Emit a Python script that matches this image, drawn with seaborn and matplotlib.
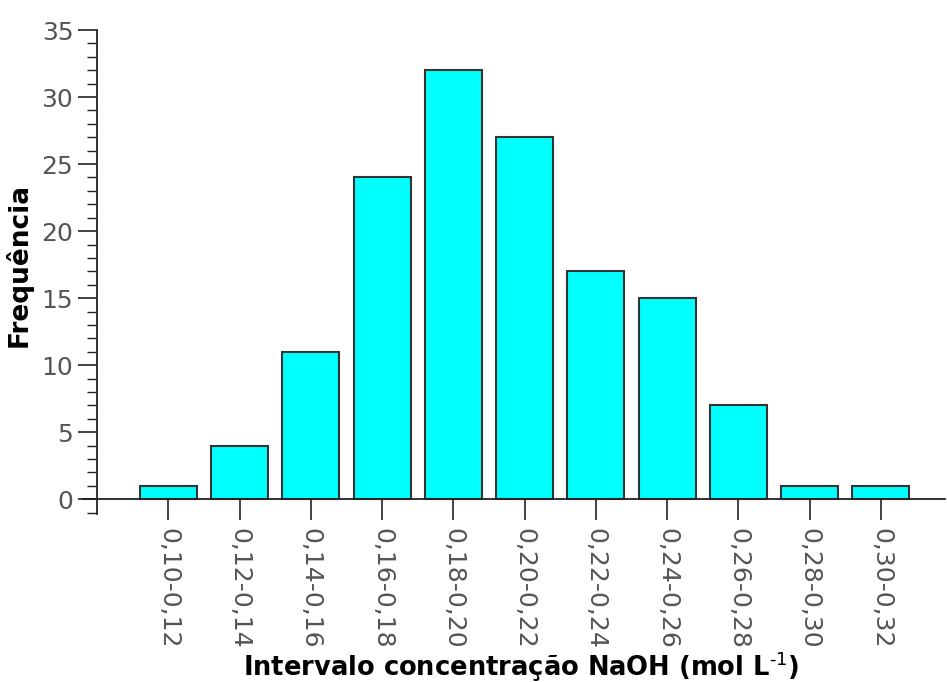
import matplotlib
matplotlib.use("Agg")
import matplotlib.pyplot as plt
from matplotlib.ticker import MultipleLocator
import seaborn as sns
import pandas as pd

intervals = ["0,10-0,12", "0,12-0,14", "0,14-0,16", "0,16-0,18", "0,18-0,20",
             "0,20-0,22", "0,22-0,24", "0,24-0,26", "0,26-0,28", "0,28-0,30",
             "0,30-0,32"]
frequencies = [1, 4, 11, 24, 32, 27, 17, 15, 7, 1, 1]

df = pd.DataFrame({"intervalo": intervals, "freq": frequencies})

sns.set_theme(style="white")
plt.rcParams["font.family"] = ["DejaVu Sans"]

fig = plt.figure(figsize=(9.47, 6.82), dpi=100)
ax = fig.add_axes([0.1024, 0.2463, 0.8956, 0.7097])

sns.barplot(data=df, x="intervalo", y="freq", ax=ax, color="#00FFFF",
            saturation=1, width=0.8, edgecolor="#333333", linewidth=1.5)

ax.set_xlim(-1, 10.9)
ax.set_ylim(-1.1, 35)
ax.set_yticks(range(0, 36, 5))
ax.yaxis.set_minor_locator(MultipleLocator(1))

for side in ("top", "right"):
    ax.spines[side].set_visible(False)
ax.spines["bottom"].set_position(("data", 0))
ax.spines["left"].set_position(("data", -1))
ax.spines["bottom"].set_bounds(-1.2, 10.9)
for side in ("bottom", "left"):
    ax.spines[side].set_color("#222222")
    ax.spines[side].set_linewidth(1.3)

ax.tick_params(axis="y", which="major", direction="out", length=14, width=1.2,
               color="#222222", labelsize=18, labelcolor="#555555", pad=3, left=True)
ax.tick_params(axis="y", which="minor", direction="out", length=7, width=1.0,
               color="#222222", left=True)
ax.tick_params(axis="x", which="major", direction="out", length=15, width=1.2,
               color="#222222", labelsize=18, labelcolor="#555555", pad=6, bottom=True)
for lbl in ax.get_xticklabels():
    lbl.set_rotation(270)
    lbl.set_va("top")
    lbl.set_ha("center")

ax.set_xlabel("Intervalo concentração NaOH (mol L$^{\\text{-}1}$)",
              fontsize=18.5, fontweight="bold", color="black", labelpad=0)
ax.set_ylabel("Frequência", fontsize=19, fontweight="bold", color="black")
ax.yaxis.set_label_coords(-0.076, 0.514)

fig.savefig("out.png", dpi=100)
